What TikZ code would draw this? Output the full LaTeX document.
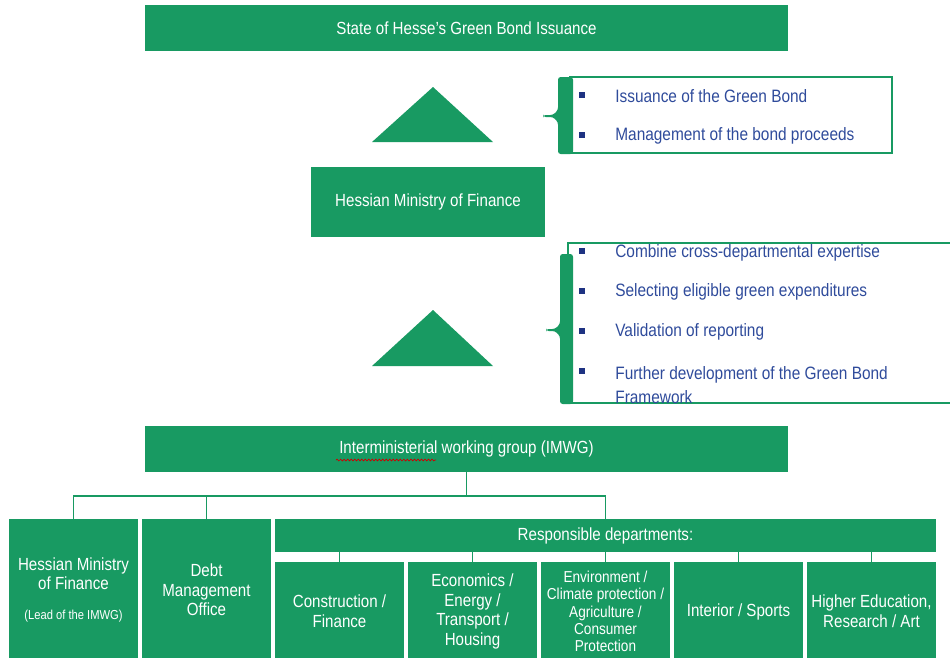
\documentclass[tikz,border=0pt]{standalone}
\usepackage{fontspec}
\setmainfont{Liberation Sans}[FakeStretch=0.86]
\usetikzlibrary{decorations.pathmorphing}

\definecolor{hgreen}{RGB}{24,154,98}
\definecolor{hblue}{RGB}{47,75,155}
\definecolor{hnavy}{RGB}{30,50,130}

\tikzset{
  gbox/.style={fill=hgreen, text=white, align=center, inner sep=0pt, font=\fontsize{10}{11.2}\selectfont},
  item/.style={anchor=west, text=hblue, align=left, inner sep=0pt, font=\fontsize{10.2}{14}\selectfont},
  dot/.style={fill=hnavy, minimum size=3.4pt, inner sep=0pt},
  tree/.style={draw=hgreen, line width=0.7pt},
  frame/.style={draw=hgreen, line width=0.6pt}
}

\begin{document}
\begin{tikzpicture}[x=0.02cm, y=-0.02cm]
\useasboundingbox (0,0) rectangle (950,657);
\clip (0,0) rectangle (950,657);

% main levels
\node[gbox, minimum width=12.86cm, minimum height=0.92cm] (issue) at (466.5,28) {State of Hesse’s Green Bond Issuance};
\node[gbox, minimum width=4.68cm, minimum height=1.4cm] (hmf) at (428,202) {Hessian Ministry of Finance};
\node[gbox, minimum width=12.86cm, minimum height=0.92cm] (imwg) at (466.5,449) {Interministerial working group (IMWG)};
\draw[red!80!black, line width=0.4pt, decorate, decoration={snake, amplitude=0.5pt, segment length=2pt}] (336,460) -- (436,460);

% triangles
\fill[hgreen] (372,142) -- (433,87) -- (493,142) -- cycle;
\fill[hgreen] (372,366) -- (433,310) -- (493,366) -- cycle;

% tasks of the ministry
\draw[frame] (570,77) rectangle (892,153);
\fill[hgreen, rounded corners=1.5pt] (573,77) -- (558,77) -- (558,110) -- (553,115) -- (543,115) -- (543,117) -- (553,117) -- (558,122) -- (558,154) -- (573,154) -- cycle;
\node[dot] (b1) at (582,95) {};
\node[item] (t1) at (615,96) {Issuance of the Green Bond};
\node[dot] (b2) at (582,135) {};
\node[item] (t2) at (615,136) {Management of the bond proceeds};

% tasks of the working group
\draw[frame] (568,243) rectangle (960,403);
\fill[hgreen, rounded corners=1.5pt] (573,254) -- (560,254) -- (560,324) -- (555,329) -- (546,329) -- (546,331) -- (555,331) -- (560,336) -- (560,404) -- (573,404) -- cycle;
\node[dot] (b3) at (582,251) {};
\node[item] (t3) at (615,253) {Combine cross-departmental expertise};
\node[dot] (b4) at (582,291) {};
\node[item] (t4) at (615,292) {Selecting eligible green expenditures};
\node[dot] (b5) at (582,331) {};
\node[item] (t5) at (615,332) {Validation of reporting};
\node[dot] (b6) at (582,371) {};
\node[item] (t6) at (615,385) {Further development of the Green Bond\\Framework};

% members of the IMWG
\node[gbox, minimum width=2.58cm, minimum height=2.84cm] (lead) at (73.5,590) {Hessian Ministry\\of Finance\\[6pt]{\fontsize{7.4}{8.5}\selectfont (Lead of the IMWG)}};
\node[gbox, minimum width=2.58cm, minimum height=2.84cm] (dmo) at (206.5,590) {Debt\\Management\\Office};
\node[gbox, minimum width=13.22cm, minimum height=0.66cm] (resp) at (605.5,535.5) {Responsible departments:};

\node[gbox, minimum width=2.58cm, minimum height=1.98cm] (d1) at (339.5,611.5) {Construction /\\Finance};
\node[gbox, minimum width=2.58cm, minimum height=1.98cm] (d2) at (472.5,611.5) {Economics /\\Energy /\\Transport /\\Housing};
\node[gbox, minimum width=2.58cm, minimum height=1.98cm, font=\fontsize{9}{9.8}\selectfont] (d3) at (605.5,611.5) {Environment /\\Climate protection /\\Agriculture /\\Consumer\\Protection};
\node[gbox, minimum width=2.58cm, minimum height=1.98cm] (d4) at (738.5,611.5) {Interior / Sports};
\node[gbox, minimum width=2.58cm, minimum height=1.98cm] (d5) at (871.5,611.5) {Higher Education,\\Research / Art};

% connectors
\coordinate (split) at (466.5,496);
\draw[tree] (imwg.south) -- (split);
\draw[tree] (lead.north) |- (split) -| (resp.north);
\draw[tree] (dmo.north) -- (dmo.north |- split);
\foreach \d in {d1,d2,d3,d4,d5}
  \draw[tree] (\d.north) -- (\d.north |- resp.south);
\end{tikzpicture}
\end{document}
